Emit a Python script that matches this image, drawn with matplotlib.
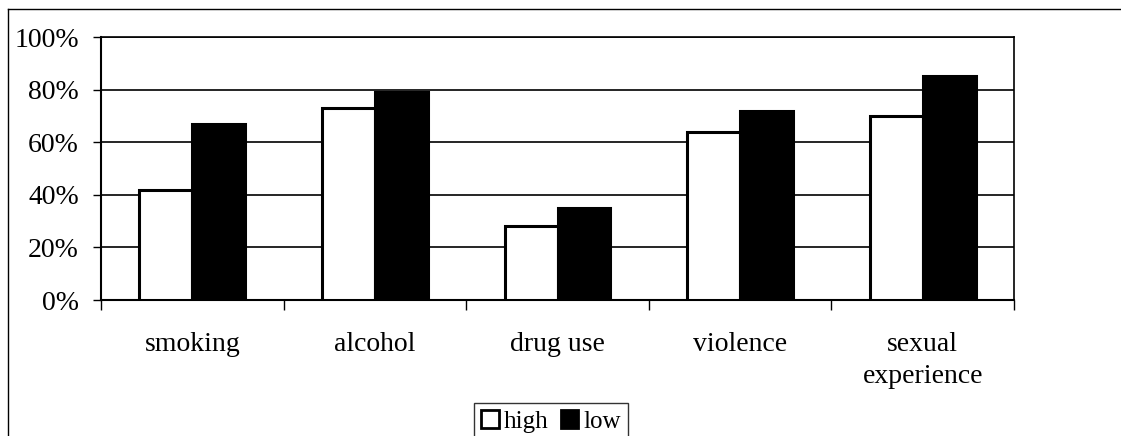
import matplotlib
matplotlib.use("Agg")
import matplotlib.pyplot as plt
from matplotlib.lines import Line2D
from matplotlib.patches import Patch
import numpy as np

categories = ["smoking", "alcohol", "drug use", "violence", "sexual\nexperience"]
high = [42, 73, 28, 64, 70]
low = [67, 79, 35, 72, 85]
yticks = [0, 20, 40, 60, 80, 100]
series_names = ["high", "low"]

plt.rcParams['font.family'] = ['Liberation Serif', 'DejaVu Serif']

fig = plt.figure(figsize=(11.21, 4.36), dpi=100)
ax = fig.add_axes([101/1121, 1-300/436, (1014-101)/1121, (300-37)/436])

x = np.arange(len(categories))
w = 0.29
ax.bar(x - w/2, high, width=w, color="white", edgecolor="black", linewidth=2.2, zorder=3)
ax.bar(x + w/2, low, width=w, color="black", edgecolor="black", linewidth=2.2, zorder=3)

ax.set_xlim(-0.5, len(categories) - 0.5)
ax.set_ylim(0, 100)
ax.set_yticks(yticks)
ax.set_yticklabels([f"{v}%" for v in yticks], fontsize=20)
ax.yaxis.grid(True, color="black", linewidth=1.2, zorder=0)
ax.set_axisbelow(True)

ax.set_xticks(x)
ax.set_xticklabels(categories, fontsize=20, linespacing=1.35)
ax.tick_params(axis="x", length=0, pad=23)
ax.set_xticks(np.arange(len(categories) + 1) - 0.5, minor=True)
ax.tick_params(axis="x", which="minor", length=7, width=1, direction="out")
ax.tick_params(axis="y", length=6, width=1, direction="out", pad=10)

for s in ["left", "bottom"]:
    ax.spines[s].set_linewidth(1.5)
for s in ["top", "right"]:
    ax.spines[s].set_linewidth(1.2)

# outer chart frame
fig.add_artist(Line2D([8/1121, 1], [1-9/436, 1-9/436], color="black", linewidth=1, transform=fig.transFigure))
fig.add_artist(Line2D([8/1121, 8/1121], [0, 1-9/436], color="black", linewidth=1, transform=fig.transFigure))

handles = [Patch(facecolor="white", edgecolor="black", linewidth=2),
           Patch(facecolor="black", edgecolor="black", linewidth=2)]
leg = fig.legend(handles, series_names, loc="lower center", bbox_to_anchor=(551/1121, -0.01),
                 ncol=2, fontsize=18, frameon=True, fancybox=False, edgecolor="black",
                 handlelength=0.7, handleheight=0.7, handletextpad=0.2, columnspacing=0.5,
                 borderpad=0.3, borderaxespad=0)
leg.get_frame().set_linewidth(1)

fig.savefig("out.png", dpi=100)
